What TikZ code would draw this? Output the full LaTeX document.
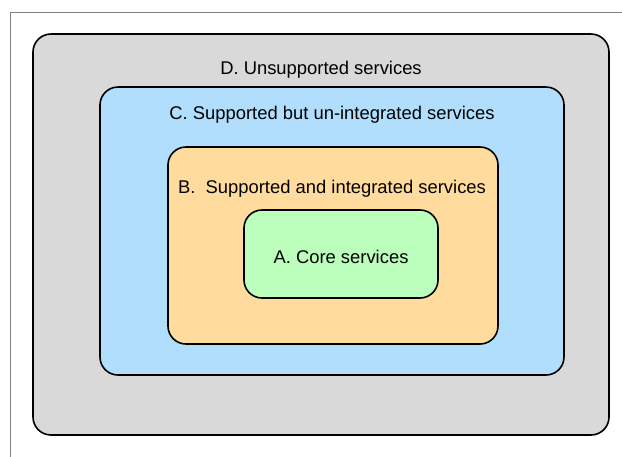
\documentclass[tikz,border=0pt]{standalone}
\usepackage{fontspec}
\setmainfont{Liberation Sans}
\definecolor{cD}{HTML}{D9D9D9}
\definecolor{cC}{HTML}{B0DEFC}
\definecolor{cB}{HTML}{FFDC9E}
\definecolor{cA}{HTML}{BCFFBC}
\tikzset{
  layer/.style={draw=black, line width=1.6pt, rounded corners=18pt},
  lbl/.style={font=\fontsize{18.4}{22}\selectfont, inner sep=0pt, anchor=center}
}
\begin{document}
\begin{tikzpicture}[x=1pt,y=-1pt]
\useasboundingbox (0,0) rectangle (622,456);
\draw[gray, line width=1pt] (10.5,460) -- (10.5,12.5) -- (630,12.5);
\filldraw[layer, fill=cD] (33,34) rectangle (609,435);
\filldraw[layer, fill=cC] (100,87) rectangle (564,375);
\filldraw[layer, fill=cB] (168,147) rectangle (498,344);
\filldraw[layer, fill=cA] (244,210) rectangle (438,298);
\node[lbl] (d) at (321,69.5) {D. Unsupported services};
\node[lbl] (c) at (332,114.5) {C. Supported but un-integrated services};
\node[lbl] (b) at (332,188.5) {B.\ \ Supported and integrated services};
\node[lbl] (a) at (341,256.5) {A. Core services};
\end{tikzpicture}
\end{document}
